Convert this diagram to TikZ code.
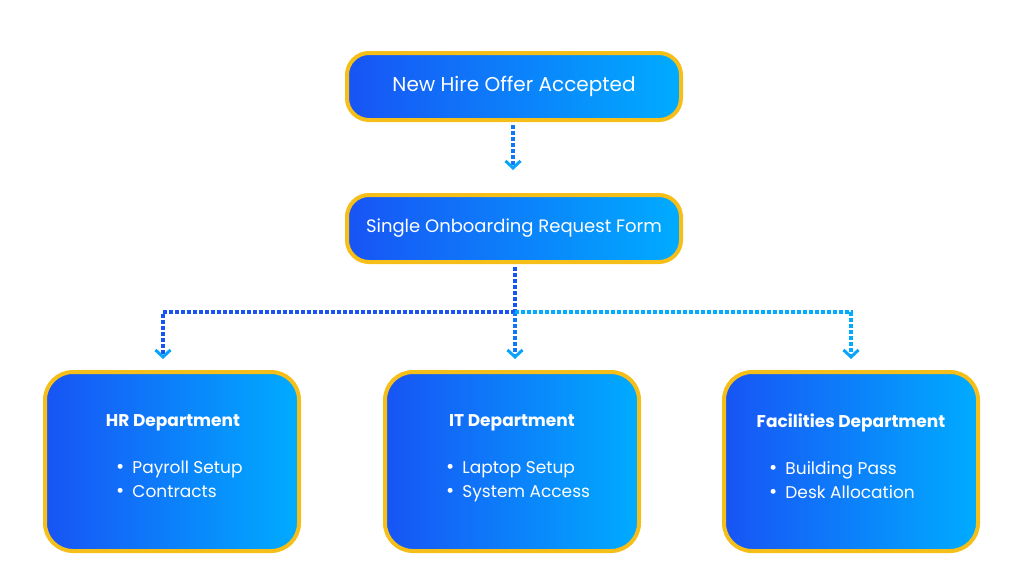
\documentclass[tikz,border=0pt]{standalone}
\usepackage{fontspec}
\setmainfont{Poppins}
\usetikzlibrary{arrows.meta}
\definecolor{cblue}{RGB}{24,84,245}
\definecolor{ccyan}{RGB}{0,172,255}
\definecolor{cgold}{RGB}{246,190,24}
\definecolor{cmid}{RGB}{14,120,248}
\definecolor{ctip}{RGB}{10,165,250}
\newcommand{\bul}{{\fontsize{20}{24}\selectfont\textbullet}\hspace{8pt}}
\begin{document}
\begin{tikzpicture}[x=1pt,y=-1pt,
  boxbase/.style={draw=cgold, line width=4pt, left color=cblue, right color=ccyan, text=white, inner sep=0pt},
  topbox/.style={boxbase, rounded corners=22pt, minimum width=334pt, minimum height=67pt},
  deptbox/.style={boxbase, rounded corners=28pt, minimum width=254pt, minimum height=179pt},
  ttl/.style={text=white, font=\bfseries\fontsize{17}{20}\selectfont, inner sep=0pt},
  lst/.style={text=white, font=\fontsize{17}{24}\selectfont, align=left, anchor=north west, inner sep=0pt},
  conn/.style={line width=3.6pt, dash pattern=on 3.6pt off 2.4pt},
  tip/.style={-{Straight Barb[length=7pt,width=15pt,line width=3pt,color=ctip]}}
]
\useasboundingbox (0,0) rectangle (1024,576);
\node[topbox, font=\fontsize{20}{24}\selectfont] (offer) at (514,86.5) {New Hire Offer Accepted};
\node[topbox, font=\fontsize{18}{22}\selectfont] (form) at (514,228.5) {Single Onboarding Request Form};
\node[deptbox] (hr) at (172,461.5) {};
\node[deptbox] (it) at (512,461.5) {};
\node[deptbox] (fac) at (851,461.5) {};

\node[ttl] (hrt) at (173,423) {HR Department};
\node[ttl] (itt) at (512,423) {IT Department};
\node[ttl] (fact) at (851,423) {Facilities Department};

\node[lst] (hrl) at (116,461) {\bul Payroll Setup\\\bul Contracts};
\node[lst] (itl) at (446,461) {\bul Laptop Setup\\\bul System Access};
\node[lst] (facl) at (769,461) {\bul Building Pass\\\bul Desk Allocation};

\coordinate (a1) at (513,170);
\coordinate (j) at (515,312);
\coordinate (hl) at (163,312);
\coordinate (hrr) at (851,312);
\coordinate (tl) at (163,359);
\coordinate (tm) at (515,359);
\coordinate (tr) at (851,359);

\draw[conn, cmid, tip, shorten <=3pt] (offer.south -| a1) -- (a1);
\draw[conn, cblue, shorten <=3pt] (form.south -| j) -- (j);
\draw[conn, cblue, tip] (j) -- (hl) -- (tl);
\draw[conn, cmid, tip] (j) -- (tm);
\draw[conn, ccyan, tip] (j) -- (hrr) -- (tr);
\end{tikzpicture}
\end{document}
